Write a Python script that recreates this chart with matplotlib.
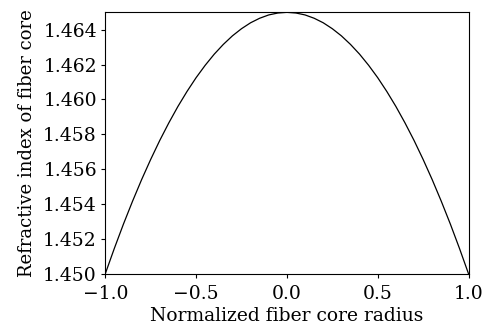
import matplotlib
matplotlib.use("Agg")
import matplotlib.pyplot as plt

# normalized radius and refractive index
radius = [-1.00, -0.95, -0.90, -0.85, -0.80, -0.75, -0.70, -0.65, -0.60, -0.55,
          -0.50, -0.45, -0.40, -0.35, -0.30, -0.25, -0.20, -0.15, -0.10, -0.05,
          0.00, 0.05, 0.10, 0.15, 0.20, 0.25, 0.30, 0.35, 0.40, 0.45,
          0.50, 0.55, 0.60, 0.65, 0.70, 0.75, 0.80, 0.85, 0.90, 0.95, 1.00]
index_n = [1.45000, 1.45146, 1.45285, 1.45416, 1.45540, 1.45656, 1.45765, 1.45866,
           1.45960, 1.46046, 1.46125, 1.46196, 1.46260, 1.46316, 1.46365, 1.46406,
           1.46440, 1.46466, 1.46485, 1.46496, 1.46500, 1.46496, 1.46485, 1.46466,
           1.46440, 1.46406, 1.46365, 1.46316, 1.46260, 1.46196, 1.46125, 1.46046,
           1.45960, 1.45866, 1.45765, 1.45656, 1.45540, 1.45416, 1.45285, 1.45146,
           1.45000]

x_ticks = [-1.0, -0.5, 0.0, 0.5, 1.0]
y_ticks = [1.450, 1.452, 1.454, 1.456, 1.458, 1.460, 1.462, 1.464]

plt.rcParams["font.family"] = ["DejaVu Serif"]
plt.rcParams["axes.unicode_minus"] = True

fig = plt.figure(figsize=(4.83, 3.33), dpi=100)
ax = fig.add_axes([0.218, 0.178, 0.752, 0.785])

ax.plot(radius, index_n, color="black", linewidth=0.9)

ax.set_xlim(-1.0, 1.0)
ax.set_ylim(1.450, 1.465)
ax.set_xticks(x_ticks)
ax.set_xticklabels([f"{v:.1f}".replace("-", "\u2212") for v in x_ticks])
ax.set_yticks(y_ticks)
ax.set_yticklabels([f"{v:.3f}" for v in y_ticks])
ax.tick_params(direction="out", length=3, width=0.8, labelsize=13.5)
ax.tick_params(axis="x", pad=5)
ax.tick_params(axis="y", pad=3)

ax.set_xlabel("Normalized fiber core radius", fontsize=13.5, labelpad=3)
ax.set_ylabel("Refractive index of fiber core", fontsize=13, labelpad=5)

for sp in ax.spines.values():
    sp.set_linewidth(0.8)

fig.savefig("out.png", dpi=100)
